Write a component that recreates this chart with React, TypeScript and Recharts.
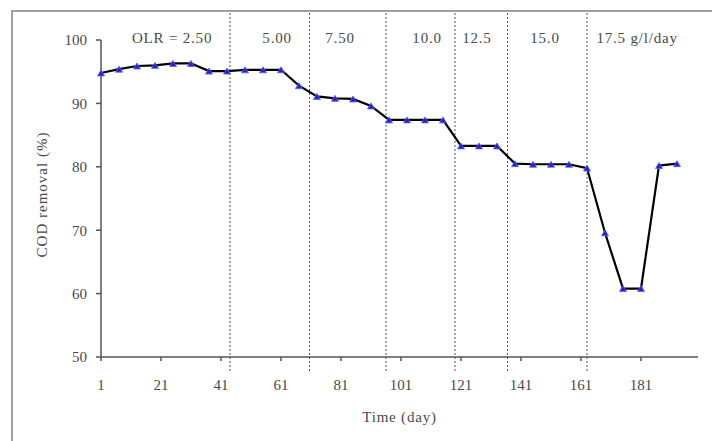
import React from 'react';
import { LineChart, Line, XAxis, YAxis, ReferenceLine, ReferenceDot } from 'recharts';

const days = [1, 7, 13, 19, 25, 31, 37, 43, 49, 55, 61, 67, 73, 79, 85, 91, 97, 103, 109, 115, 121, 127, 133, 139, 145, 151, 157, 163, 169, 175, 181, 187, 193];
const codRemoval = [94.8, 95.4, 95.9, 96.0, 96.3, 96.3, 95.1, 95.1, 95.3, 95.3, 95.3, 92.8, 91.1, 90.8, 90.7, 89.6, 87.4, 87.4, 87.4, 87.4, 83.3, 83.3, 83.3, 80.5, 80.4, 80.4, 80.4, 79.8, 69.6, 60.8, 60.8, 80.2, 80.5];
const xTicks = [1, 21, 41, 61, 81, 101, 121, 141, 161, 181];
const yTicks = [50, 60, 70, 80, 90, 100];
const olrDividers = [44, 70.5, 96, 119, 136.5, 163];
const olrLabels = ['OLR = 2.50', '5.00', '7.50', '10.0', '12.5', '15.0', '17.5 g/l/day'];
const olrLabelDays = [24.7, 59.7, 80.7, 109.7, 126.3, 149, 179.7];

const data = days.map((d, i) => ({ day: d, cod: codRemoval[i] }));

const FONT = '"Liberation Serif", "Times New Roman", serif';
const TEXT = '#4a4a4a';

const Triangle = (props: any) => {
  const { cx, cy } = props;
  if (cx == null || cy == null) return null;
  return (
    <polygon
      points={`${cx - 3.5},${cy + 3} ${cx + 3.5},${cy + 3} ${cx},${cy - 3}`}
      fill="#2323d6"
      stroke="#6060f0"
      strokeWidth={0.8}
    />
  );
};

const DividerShape = (props: any) => {
  const { x1, x2, y1, y2 } = props;
  const top = Math.min(y1, y2) - 27;
  const bottom = Math.max(y1, y2) + 16;
  return <line x1={x1} x2={x2} y1={top} y2={bottom} stroke="#555" strokeWidth={1} strokeDasharray="2 2" />;
};

const tickStyle = { fontFamily: FONT, fontSize: 15, fill: TEXT };

export default function App() {
  return (
    <div style={{ position: 'absolute', left: 0, top: 0, width: 712, height: 441, overflow: 'hidden', background: '#fff' }}>
      <div style={{ position: 'absolute', left: 11, top: 10, width: 740, height: 460, border: '2px solid #a0a0a0', boxSizing: 'border-box' }} />
      <div style={{ position: 'absolute', left: 0, top: 0 }}>
        <LineChart width={712} height={441} data={data} margin={{ top: 40, right: 14, bottom: 0, left: 0 }}>
          <XAxis
            dataKey="day"
            type="number"
            domain={[1, 200]}
            ticks={xTicks}
            interval={0}
            tickSize={4}
            tickMargin={18}
            stroke="#555"
            strokeWidth={1.5}
            tick={tickStyle}
            height={84}
            label={{
              content: (p: any) => {
                const vb = p.viewBox || { x: 101, y: 357, width: 597, height: 84 };
                return (
                  <text x={vb.x + vb.width / 2} y={vb.y + 65} textAnchor="middle" fontFamily={FONT} fontSize={15} fill={TEXT} letterSpacing={0.8}>
                    Time (day)
                  </text>
                );
              },
            }}
          />
          <YAxis
            type="number"
            domain={[50, 100]}
            ticks={yTicks}
            interval={0}
            width={101}
            tickSize={5}
            tickMargin={9}
            stroke="#555"
            strokeWidth={1.5}
            tick={tickStyle}
            label={{
              content: (p: any) => {
                const vb = p.viewBox || { x: 0, y: 40, width: 101, height: 317 };
                const cx = vb.x + 47;
                const cy = vb.y + vb.height / 2 - 4;
                return (
                  <text x={cx} y={cy} textAnchor="middle" transform={`rotate(-90 ${cx} ${cy})`} fontFamily={FONT} fontSize={15} fill={TEXT} letterSpacing={1}>
                    COD removal (%)
                  </text>
                );
              },
            }}
          />
          {olrDividers.map((d) => (
            <ReferenceLine key={`div-${d}`} x={d} shape={DividerShape} />
          ))}
          {olrLabels.map((t, i) => (
            <ReferenceDot
              key={`lab-${i}`}
              x={olrLabelDays[i]}
              y={100}
              r={1}
              ifOverflow="visible"
              fill="none"
              stroke="none"
              label={{ value: t, position: 'center', dy: -2, fontFamily: FONT, fontSize: 15, fill: TEXT, letterSpacing: 0.8 }}
            />
          ))}
          <Line
            type="linear"
            dataKey="cod"
            stroke="#000"
            strokeWidth={2.2}
            dot={<Triangle />}
            activeDot={false}
            isAnimationActive={false}
          />
        </LineChart>
      </div>
    </div>
  );
}
